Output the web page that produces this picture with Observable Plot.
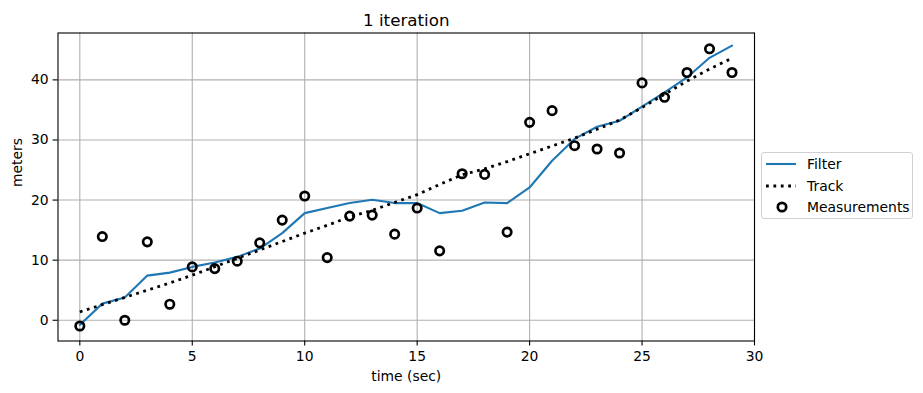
<!DOCTYPE html>
<html>
<head>
<meta charset="utf-8">
<script src="https://cdn.jsdelivr.net/npm/d3@7"></script>
<script src="https://cdn.jsdelivr.net/npm/@observablehq/plot@0.6"></script>
<style>
  html, body { margin: 0; padding: 0; background: white; }
  #wrap { position: relative; width: 923px; height: 393px; font-family: "DejaVu Sans", sans-serif; }
  #chart { position: absolute; left: 0; top: 0; }
  #legend { position: absolute; left: 761px; top: 152px; width: 152px; height: 67px;
    border: 1px solid #d0d0d0; border-radius: 3px; background: rgba(255,255,255,0.8); box-sizing: border-box; }
  .lrow { position: absolute; left: 0; height: 20px; width: 150px; }
  .lrow svg { position: absolute; left: 4px; top: 0; }
  .lrow span { position: absolute; left: 45px; top: 1px; font-size: 13.9px; color: #000; line-height: 18px; }
</style>
</head>
<body>
<div id="wrap">
  <div id="chart"></div>
  <div id="legend"></div>
</div>
<script>
const times = d3.range(0, 30);
const measurements = [-0.95, 13.93, 0.0, 13.05, 2.67, 8.88, 8.6, 9.83, 12.88, 16.67,
  20.67, 10.43, 17.33, 17.5, 14.33, 18.67, 11.55, 24.38, 24.27, 14.67,
  32.93, 34.88, 29.05, 28.5, 27.83, 39.5, 37.1, 41.22, 45.17, 41.22];
const filterVals = [-0.78, 2.77, 3.77, 7.43, 7.93, 8.88, 9.6, 10.55, 11.93, 14.5,
  17.83, 18.67, 19.5, 20.05, 19.5, 19.5, 17.83, 18.22, 19.6, 19.5,
  22.1, 26.55, 30.17, 32.2, 33.2, 35.55, 37.93, 40.4, 43.67, 45.7];
const trackVals = [1.4, 2.6, 3.8, 5.0, 6.2, 7.5, 8.9, 10.3, 11.7, 13.1,
  14.5, 15.8, 17.2, 18.3, 19.6, 20.9, 22.6, 24.2, 25.2, 26.4,
  27.7, 29.0, 30.3, 31.8, 33.3, 35.4, 37.6, 39.8, 41.8, 43.6];
const xTicks = [0, 5, 10, 15, 20, 25, 30];
const yTicks = [0, 10, 20, 30, 40];
const titleText = "1 iteration";
const xLabel = "time (sec)";
const yLabel = "meters";
const legendItems = ["Filter", "Track", "Measurements"];

const rows = times.map((t, i) => ({t, m: measurements[i], f: filterVals[i], tr: trackVals[i]}));

const chart = Plot.plot({
  width: 923,
  height: 393,
  marginLeft: 57.5,
  marginRight: 169,
  marginTop: 32.5,
  marginBottom: 52.5,
  style: {fontFamily: "DejaVu Sans, sans-serif", fontSize: "13.9px", background: "white", color: "#000"},
  x: {domain: [-0.97, 30]},
  y: {domain: [-3.45, 47.8]},
  marks: [
    Plot.gridX(xTicks, {stroke: "#b0b0b0", strokeOpacity: 1, strokeWidth: 1.1}),
    Plot.gridY(yTicks, {stroke: "#b0b0b0", strokeOpacity: 1, strokeWidth: 1.1}),
    Plot.line(rows, {x: "t", y: "f", stroke: "#1f77b4", strokeWidth: 2.1}),
    Plot.line(rows, {x: "t", y: "tr", stroke: "black", strokeWidth: 2.8, strokeDasharray: "2.8,4.6", strokeLinecap: "butt"}),
    Plot.dot(rows, {x: "t", y: "m", r: 4.2, stroke: "black", strokeWidth: 2.7, fill: "none"}),
    Plot.frame({stroke: "black", strokeWidth: 1.1}),
    Plot.axisX(xTicks, {tickSize: 4.9, tickPadding: 5, label: null, fontSize: 13.9, stroke: "black", fill: "black", strokeWidth: 1.1}),
    Plot.axisY(yTicks, {tickSize: 4.9, tickPadding: 4.5, label: null, fontSize: 13.9, stroke: "black", fill: "black", strokeWidth: 1.1}),
    Plot.text([xLabel], {frameAnchor: "bottom", dy: 40, fontSize: 13.9, fill: "black"}),
    Plot.text([yLabel], {frameAnchor: "left", dx: -40.8, rotate: -90, fontSize: 13.9, fill: "black"}),
    Plot.text([titleText], {frameAnchor: "top", dy: -19, fontSize: 16.7, fill: "black"})
  ]
});
document.getElementById("chart").appendChild(chart);

const legend = document.getElementById("legend");
const centers = [11, 32.5, 54];
legendItems.forEach((name, i) => {
  const row = document.createElement("div");
  row.className = "lrow";
  row.style.top = (centers[i] - 10) + "px";
  let sw = "";
  if (i === 0) sw = `<line x1="0" x2="30" y1="10" y2="10" stroke="#1f77b4" stroke-width="2.1"/>`;
  if (i === 1) sw = `<line x1="0" x2="30" y1="10" y2="10" stroke="black" stroke-width="2.8" stroke-dasharray="2.8,4.6"/>`;
  if (i === 2) sw = `<circle cx="16" cy="10" r="4.2" stroke="black" stroke-width="2.7" fill="none"/>`;
  row.innerHTML = `<svg width="32" height="20">${sw}</svg><span>${name}</span>`;
  legend.appendChild(row);
});
</script>
</body>
</html>
